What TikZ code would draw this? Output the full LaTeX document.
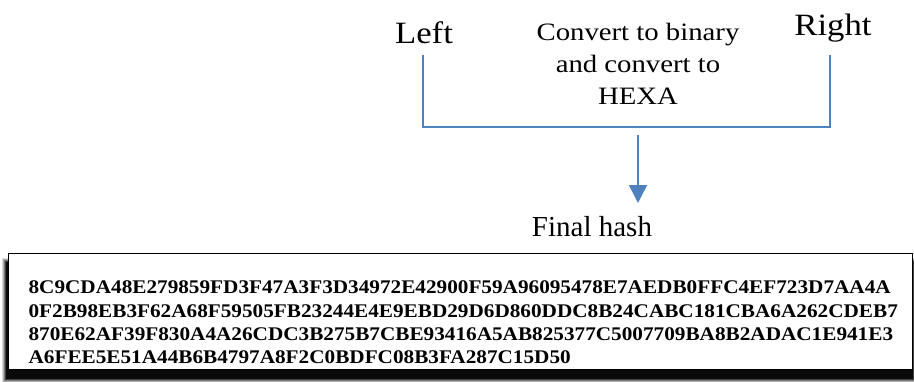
\documentclass[tikz,border=0pt]{standalone}
\usepackage{fontspec}
\setmainfont{Liberation Serif}
\newfontfamily\labfont[FakeStretch=1.12]{Liberation Serif}
\newfontfamily\convfont[FakeStretch=1.15]{Liberation Serif}
\newfontfamily\hashfont[FakeStretch=1.1]{Liberation Serif}
\usetikzlibrary{arrows.meta}
\definecolor{lineblue}{HTML}{4F81BD}
\begin{document}
\begin{tikzpicture}[x=1pt,y=-1pt,
  lab/.style={inner sep=0pt,anchor=base,font=\labfont\fontsize{31}{36}\selectfont},
  conv/.style={inner sep=0pt,align=center,anchor=north,font=\convfont\fontsize{25}{32}\selectfont},
  conn/.style={draw=lineblue,line width=1.5pt},
  hashbox/.style={draw=black,line width=1.2pt,fill=white,minimum width=904pt,minimum height=116pt,
    text width=864pt,align=left,inner xsep=20pt,inner ysep=0pt,text height=28pt,text depth=64pt,
    font=\hashfont\bfseries\fontsize{19.3}{23.4}\selectfont}]
\useasboundingbox (0,0) rectangle (914,381);
% labels
\node[lab] (left) at (424,43) {Left};
\node[lab] (right) at (833,35) {Right};
\node[conv] (conv) at (638,23) {Convert to binary\\and convert to\\HEXA};
\node[lab,font=\fontsize{29}{34}\selectfont] (final) at (592,236) {Final hash};
% bracket
\coordinate (lt) at (423,55);
\coordinate (lb) at (423,127);
\coordinate (rb) at (830,127);
\coordinate (rt) at (830,55);
\draw[conn] (lt) -- (lb) -- (rb) -- (rt);
% arrow
\coordinate (as) at (638,135);
\coordinate (ae) at (638,203);
\draw[conn,-{Triangle[width=18pt,length=18pt,fill=lineblue]}] (as) -- (ae);
% shadow
\foreach \i/\o in {4/0.15,3/0.2,2/0.3,1/0.45,0/0.85}
  \fill[black,opacity=\o] ({6-\i},{262-\i}) rectangle ({913+\i},{379+\i});
% hash box
\node[hashbox,anchor=north west] (hash) at (8,253) {8C9CDA48E279859FD3F47A3F3D34972E42900F59A96095478E7AEDB0FFC4EF723D7AA4A\\
0F2B98EB3F62A68F59505FB23244E4E9EBD29D6D860DDC8B24CABC181CBA6A262CDEB7\\
870E62AF39F830A4A26CDC3B275B7CBE93416A5AB825377C5007709BA8B2ADAC1E941E3\\
A6FEE5E51A44B6B4797A8F2C0BDFC08B3FA287C15D50};
\end{tikzpicture}
\end{document}
